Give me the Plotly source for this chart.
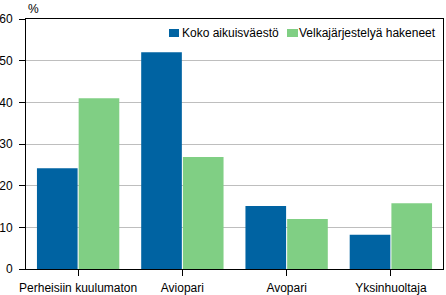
import plotly.graph_objects as go

categories = ["Perheisiin kuulumaton", "Aviopari", "Avopari", "Yksinhuoltaja"]
series_names = ["Koko aikuisväestö", "Velkajärjestelyä hakeneet"]
koko = [24.2, 52.0, 15.1, 8.2]
velka = [41.0, 26.9, 12.0, 15.8]
y_ticks = [0, 10, 20, 30, 40, 50, 60]

colors = ["#0063a2", "#80cf84"]
font = "Liberation Sans, Arial, sans-serif"

# plot area in pixels (for placing the hand-drawn legend)
W, H = 446, 295
L, R, T, B = 26, 3, 19, 26
pw, ph = W - L - R, H - T - B


def px(x):
    return (x - L) / pw


def py(y):
    return (H - B - y) / ph


fig = go.Figure()
for name, vals, col in zip(series_names, [koko, velka], colors):
    fig.add_trace(go.Bar(x=categories, y=vals, name=name, marker_color=col,
                         marker_line_width=0, showlegend=False))

# legend: swatch + label, placed at top right inside the plot
legend_pos = [(169, 179, 180), (287, 298, 297)]
shapes, annotations = [], []
for (sx0, sx1, tx), name, col in zip(legend_pos, series_names, colors):
    shapes.append(dict(type="rect", xref="paper", yref="paper",
                       x0=px(sx0), x1=px(sx1), y0=py(37), y1=py(29),
                       fillcolor=col, line=dict(width=0)))
    annotations.append(dict(text=name, xref="paper", yref="paper", x=px(tx), y=py(33),
                            xanchor="left", yanchor="middle", showarrow=False,
                            font=dict(size=12)))

annotations.append(dict(text="%", xref="paper", yref="paper", x=0, y=1, xanchor="left",
                        yanchor="bottom", yshift=1, showarrow=False, font=dict(size=12)))

fig.update_layout(
    width=W, height=H,
    margin=dict(l=L, r=R, t=T, b=B, autoexpand=False),
    paper_bgcolor="white", plot_bgcolor="white",
    barmode="group", bargap=0.2, bargroupgap=0.025,
    font=dict(family=font, size=12, color="black"),
    xaxis=dict(showline=True, linecolor="black", linewidth=1, mirror=True,
               ticks="outside", ticklen=6, tickcolor="black", showgrid=False,
               ticklabelstandoff=2, automargin=False),
    yaxis=dict(range=[0, 60], tickvals=y_ticks, showline=True, linecolor="black",
               linewidth=1, mirror=True, ticks="outside", ticklen=6, tickcolor="black",
               showgrid=True, gridcolor="#bebebe", gridwidth=1, zeroline=False,
               ticklabelstandoff=4, automargin=False),
    shapes=shapes,
    annotations=annotations,
)

fig.write_html("out.html")
